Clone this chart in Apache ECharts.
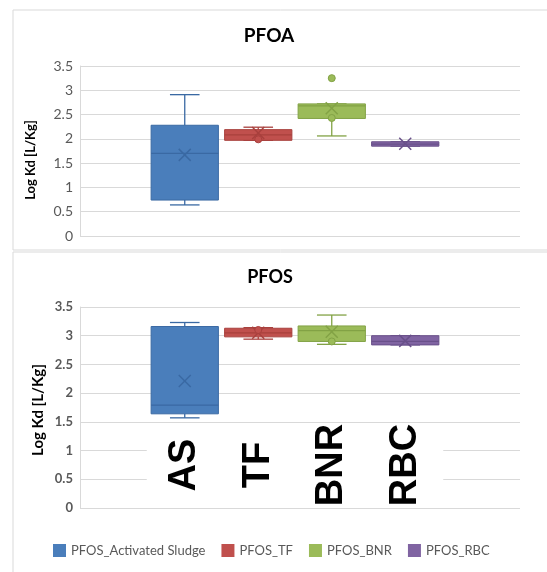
<!DOCTYPE html>
<html><head><meta charset="utf-8">
<script src="https://cdn.jsdelivr.net/npm/echarts@6/dist/echarts.min.js"></script>
<style>html,body{margin:0;padding:0;background:#fff}#c{width:547px;height:572px}</style>
</head><body><div id="c"></div>
<script>
const categories = ['AS', 'TF', 'BNR', 'RBC'];
const seriesNames = ['PFOS_Activated Sludge', 'PFOS_TF', 'PFOS_BNR', 'PFOS_RBC'];
const panelTitles = ['PFOA', 'PFOS'];
const yAxisTitle = 'Log Kd [L/Kg]';
// [min, q1, median, q3, max, mean]
const pfoaAS  = [0.64, 0.74, 1.70, 2.28, 2.91, 1.67];
const pfoaTF  = [1.97, 1.97, 2.08, 2.19, 2.24, 2.12];
const pfoaBNR = [2.06, 2.42, 2.68, 2.72, 2.72, 2.63];
const pfoaRBC = [1.85, 1.85, 1.89, 1.94, 1.94, 1.90];
const pfoaPoints = [[], [1.99], [2.43, 3.25], []];
const pfosAS  = [1.57, 1.64, 1.79, 3.16, 3.23, 2.21];
const pfosTF  = [2.94, 2.98, 3.05, 3.13, 3.14, 3.05];
const pfosBNR = [2.85, 2.90, 3.09, 3.17, 3.36, 3.07];
const pfosRBC = [2.84, 2.84, 2.90, 3.00, 3.00, 2.91];
const pfosPoints = [[], [3.10], [2.90], []];
const yMin = 0, yMax = 3.5, yStep = 0.5;

const fills = ['#4a7ebb', '#c0504d', '#9bbb59', '#8064a2'];
const strokes = ['#3a69a3', '#a8403d', '#82a245', '#69508a'];
const FONT = 'Lato, "Open Sans", sans-serif';

const pfoaBoxes = [pfoaAS, pfoaTF, pfoaBNR, pfoaRBC];
const pfosBoxes = [pfosAS, pfosTF, pfosBNR, pfosRBC];

function makeRender(k) {
  return function (params, api) {
    const x = api.value(0);
    const v = [1, 2, 3, 4, 5, 6].map(i => api.value(i));
    const band = api.size([1, 0])[0];
    const w = band * 0.915, cw = w * 0.44;
    const cx = api.coord([x, v[0]])[0];
    const y = val => api.coord([x, val])[1];
    const st = { stroke: strokes[k], lineWidth: 1.3 };
    const my = y(v[5]), m = 6;
    return {
      type: 'group', children: [
        { type: 'line', shape: { x1: cx, y1: y(v[4]), x2: cx, y2: y(v[3]) }, style: st },
        { type: 'line', shape: { x1: cx, y1: y(v[1]), x2: cx, y2: y(v[0]) }, style: st },
        { type: 'line', shape: { x1: cx - cw / 2, y1: y(v[4]), x2: cx + cw / 2, y2: y(v[4]) }, style: st },
        { type: 'line', shape: { x1: cx - cw / 2, y1: y(v[0]), x2: cx + cw / 2, y2: y(v[0]) }, style: st },
        { type: 'rect', shape: { x: cx - w / 2, y: y(v[3]), width: w, height: Math.max(y(v[1]) - y(v[3]), 1) },
          style: { fill: fills[k], stroke: strokes[k], lineWidth: 1 } },
        { type: 'line', shape: { x1: cx - w / 2, y1: y(v[2]), x2: cx + w / 2, y2: y(v[2]) }, style: { stroke: strokes[k], lineWidth: 1.2 } },
        { type: 'line', shape: { x1: cx - m, y1: my - m, x2: cx + m, y2: my + m }, style: { stroke: strokes[k], lineWidth: 1.5 } },
        { type: 'line', shape: { x1: cx - m, y1: my + m, x2: cx + m, y2: my - m }, style: { stroke: strokes[k], lineWidth: 1.5 } }
      ]
    };
  };
}

const grids = [
  { left: 80, right: 27, top: 66, bottom: 336 },
  { left: 148, right: 105, top: 66, bottom: 336 },
  { left: 80, right: 27, top: 307, bottom: 64 },
  { left: 148, right: 105, top: 307, bottom: 64 }
];

function bgY(gi, bold, size) {
  return {
    gridIndex: gi, type: 'value', min: yMin, max: yMax, interval: yStep,
    axisLine: { show: true, lineStyle: { color: '#d9d9d9' } },
    axisTick: { show: false },
    splitLine: { show: true, lineStyle: { color: '#d9d9d9', width: 1 } },
    axisLabel: { margin: 7, color: '#595959', fontSize: size, fontWeight: bold ? 'bold' : 'normal', fontFamily: FONT }
  };
}
function boxY(gi) {
  return { gridIndex: gi, type: 'value', min: yMin, max: yMax, interval: yStep, show: false, splitLine: { show: false } };
}

const series = [];
[[pfoaBoxes, pfoaPoints, 1], [pfosBoxes, pfosPoints, 3]].forEach(([boxes, pts, ai]) => {
  boxes.forEach((b, k) => {
    series.push({
      type: 'custom', name: seriesNames[k], xAxisIndex: ai, yAxisIndex: ai,
      itemStyle: { color: fills[k] },
      renderItem: makeRender(k),
      encode: { x: 0, y: [1, 2, 3, 4, 5, 6] },
      data: [[k].concat(b)], z: 3
    });
    if (pts[k].length) {
      series.push({
        type: 'scatter', name: seriesNames[k], xAxisIndex: ai, yAxisIndex: ai,
        symbol: 'circle', symbolSize: 7,
        itemStyle: { color: fills[k], borderColor: strokes[k], borderWidth: 1, opacity: 1 },
        data: pts[k].map(p => [k, p]), z: 4
      });
    }
  });
});

const chart = echarts.init(document.getElementById('c'), null, { renderer: 'canvas' });
chart.setOption({
  animation: false,
  backgroundColor: '#ffffff',
  grid: grids,
  xAxis: [
    { gridIndex: 0, type: 'value', min: 0, max: 1, show: false },
    { gridIndex: 1, type: 'category', data: categories, boundaryGap: true, axisLine: { show: false }, axisTick: { show: false }, axisLabel: { show: false }, splitLine: { show: false } },
    { gridIndex: 2, type: 'value', min: 0, max: 1, show: false },
    { gridIndex: 3, type: 'category', data: categories, boundaryGap: true, z: 5,
      axisLine: { show: false }, axisTick: { show: false }, splitLine: { show: false },
      axisLabel: { show: true, inside: true, margin: 43, rotate: 90, align: 'center', verticalAlign: 'middle',
        fontSize: 38, fontWeight: 'bold', color: '#000', fontFamily: '"Liberation Sans", Arial, sans-serif',
        lineHeight: 44, backgroundColor: '#ffffff', padding: [16, 0, 16, 0], interval: 0 } }
  ],
  yAxis: [bgY(0, false, 14), boxY(1), bgY(2, true, 13), boxY(3)],
  legend: {
    data: seriesNames, left: 48, top: 539, icon: 'rect', itemWidth: 13, itemHeight: 13, itemGap: 16,
    textStyle: { color: '#595959', fontSize: 13, fontFamily: FONT }
  },
  graphic: [
    { type: 'rect', shape: { x: 13, y: 10, width: 545, height: 240 }, style: { fill: 'none', stroke: '#d9d9d9', lineWidth: 1 }, z: -1 },
    { type: 'rect', shape: { x: 13, y: 252, width: 545, height: 330 }, style: { fill: 'none', stroke: '#d9d9d9', lineWidth: 1 }, z: -1 },
    { type: 'text', x: 269, y: 36, style: { text: panelTitles[0], fontSize: 19, fontWeight: 'bold', fill: '#000', fontFamily: FONT, textAlign: 'center', textVerticalAlign: 'middle' } },
    { type: 'text', x: 270, y: 277, style: { text: panelTitles[1], fontSize: 18, fontWeight: 'bold', fill: '#000', fontFamily: FONT, textAlign: 'center', textVerticalAlign: 'middle' } },
    { type: 'text', x: 31, y: 160, rotation: Math.PI / 2, style: { text: yAxisTitle, fontSize: 13, fontWeight: 'bold', fill: '#000', fontFamily: FONT, textAlign: 'center', textVerticalAlign: 'middle' } },
    { type: 'text', x: 38, y: 410, rotation: Math.PI / 2, style: { text: yAxisTitle, fontSize: 15, fontWeight: 'bold', fill: '#000', fontFamily: FONT, textAlign: 'center', textVerticalAlign: 'middle' } }
  ],
  series: series
});
</script>
</body></html>
